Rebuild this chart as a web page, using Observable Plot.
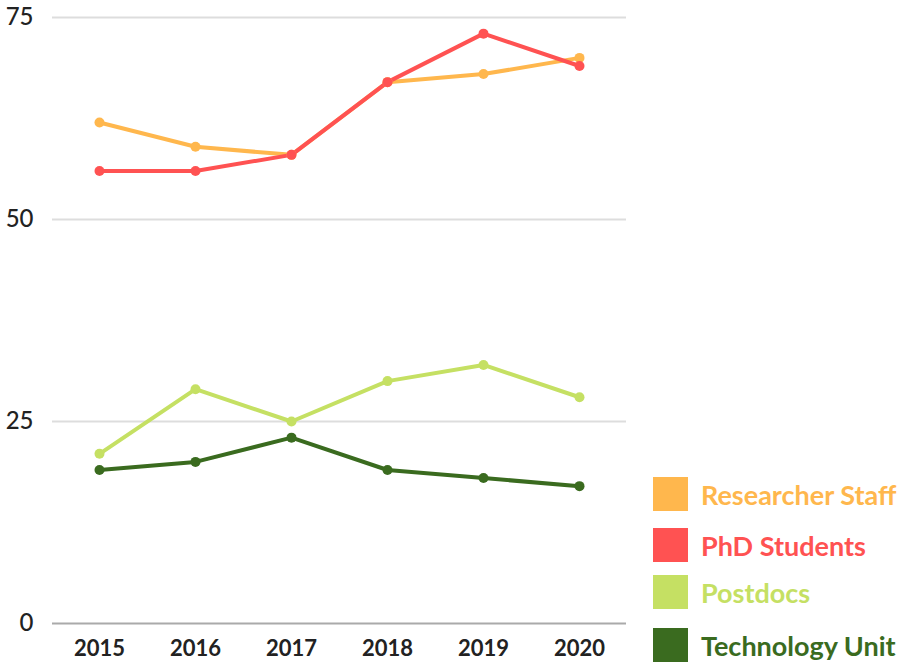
<!DOCTYPE html>
<html>
<head>
<meta charset="utf-8">
<script src="https://cdn.jsdelivr.net/npm/d3@7"></script>
<script src="https://cdn.jsdelivr.net/npm/@observablehq/plot@0.6"></script>
<style>
  html, body { margin: 0; padding: 0; background: #fff; }
  #wrap { position: relative; width: 903px; height: 664px; font-family: Lato, sans-serif; }
  #chart { position: absolute; left: 0; top: 0; }
  .leg { position: absolute; left: 653px; display: flex; align-items: center; font-weight: 700; font-size: 27px; white-space: nowrap; }
  .leg .sw { width: 35px; height: 34px; margin-right: 13px; }
</style>
</head>
<body>
<div id="wrap"><div id="chart"></div></div>
<script>
const years = [2015, 2016, 2017, 2018, 2019, 2020];
const seriesNames = ["Researcher Staff", "PhD Students", "Postdocs", "Technology Unit"];
const seriesColors = ["#FFB74D", "#FF5252", "#C5E063", "#3A6B1F"];
const researcherStaff = [62, 59, 58, 67, 68, 70];
const phdStudents = [56, 56, 58, 67, 73, 69];
const postdocs = [21, 29, 25, 30, 32, 28];
const technologyUnit = [19, 20, 23, 19, 18, 17];
const yTicks = [0, 25, 50, 75];
const legendTops = [477, 528, 575, 628];

const allValues = [researcherStaff, phdStudents, postdocs, technologyUnit];
const data = [];
seriesNames.forEach((name, i) => {
  years.forEach((yr, j) => data.push({series: name, year: String(yr), value: allValues[i][j]}));
});

const color = {domain: seriesNames, range: seriesColors};

const chart = Plot.plot({
  width: 640,
  height: 664,
  marginLeft: 52,
  marginRight: 14,
  marginTop: 17,
  marginBottom: 41,
  style: {fontFamily: "Lato, sans-serif", color: "#222"},
  x: {type: "point", domain: years.map(String), padding: 0.48, label: null},
  y: {domain: [0, 75], label: null},
  color,
  marks: [
    Plot.ruleY(yTicks.filter(d => d > 0), {stroke: "#ddd", strokeWidth: 2}),
    Plot.ruleY([0], {stroke: "#aaa", strokeWidth: 2}),
    Plot.axisY({ticks: yTicks, tickSize: 0, tickPadding: 19, fontSize: 24, fontWeight: 500, label: null}),
    Plot.axisX({tickSize: 0, tickPadding: 17, fontSize: 22, fontWeight: 700, label: null}),
    Plot.line(data, {x: "year", y: "value", z: "series", stroke: "series", strokeWidth: 4}),
    Plot.dot(data, {x: "year", y: "value", fill: "series", r: 5})
  ]
});
document.getElementById("chart").appendChild(chart);

const wrap = document.getElementById("wrap");
seriesNames.forEach((name, i) => {
  const row = document.createElement("div");
  row.className = "leg";
  row.style.top = legendTops[i] + "px";
  row.style.color = seriesColors[i];
  const sw = document.createElement("div");
  sw.className = "sw";
  sw.style.background = seriesColors[i];
  const tx = document.createElement("span");
  tx.textContent = name;
  row.appendChild(sw);
  row.appendChild(tx);
  wrap.appendChild(row);
});
</script>
</body>
</html>
